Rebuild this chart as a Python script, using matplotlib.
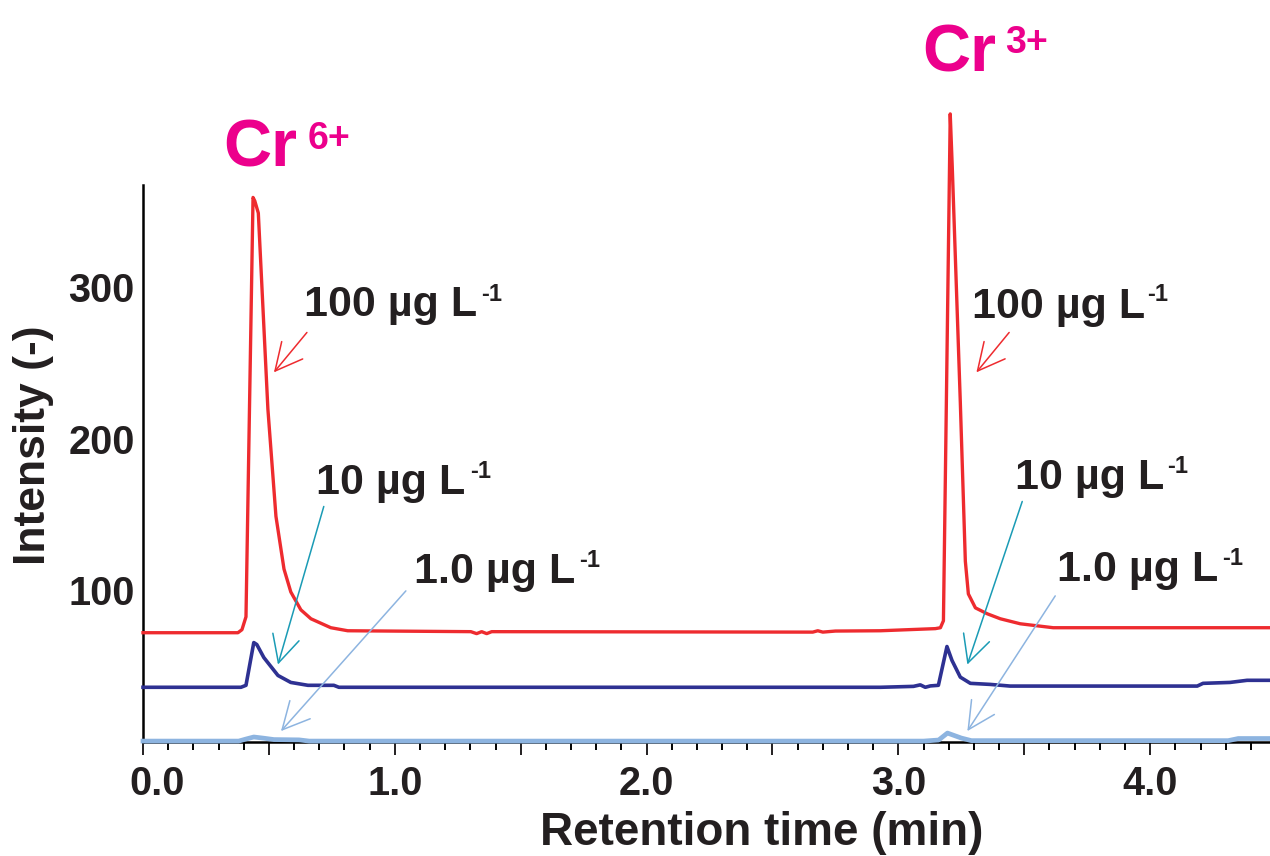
import matplotlib
matplotlib.use('Agg')  # no display in the sandbox
import matplotlib.pyplot as plt
from matplotlib.ticker import MultipleLocator, FuncFormatter

plt.rcParams['font.family'] = ['Liberation Sans', 'DejaVu Sans']
plt.rcParams['font.weight'] = 'bold'

# Chromatogram traces: retention time (min), intensity (-)
red_t = [0.000, 0.377, 0.393, 0.409, 0.437, 0.444, 0.458, 0.496, 0.528, 0.560,
         0.587, 0.627, 0.667, 0.746, 0.813, 1.302, 1.325, 1.345, 1.365, 1.385,
         2.660, 2.680, 2.700, 2.750, 2.929, 3.147, 3.167, 3.179, 3.206, 3.214,
         3.246, 3.266, 3.278, 3.306, 3.353, 3.405, 3.484, 3.615, 4.476]
red_i = [72.1, 72.1, 74.1, 82.6, 359.3, 357.0, 349.0, 219.7, 148.9, 114.1,
         99.0, 87.2, 81.3, 75.4, 73.4, 72.8, 71.5, 72.8, 71.5, 72.8,
         72.5, 73.4, 72.5, 73.2, 73.4, 74.8, 75.4, 80.0, 414.4, 379.7,
         224.3, 119.3, 97.7, 88.5, 84.6, 81.3, 78.0, 75.4, 75.4]

blue_t = [0.000, 0.389, 0.409, 0.440, 0.452, 0.480, 0.536, 0.587, 0.655, 0.758,
          0.778, 2.929, 3.060, 3.087, 3.107, 3.127, 3.159, 3.193, 3.213, 3.246,
          3.286, 3.365, 3.444, 4.187, 4.210, 4.317, 4.385, 4.476]
blue_i = [36.1, 36.1, 37.4, 65.6, 64.3, 55.7, 43.9, 39.3, 37.4, 37.4,
          36.1, 36.1, 36.7, 37.7, 36.1, 37.0, 37.4, 63.0, 53.8, 42.8,
          38.7, 38.0, 36.9, 36.9, 38.7, 39.3, 40.7, 40.7]

light_t = [0.000, 0.380, 0.410, 0.440, 0.480, 0.520, 0.620, 0.660, 3.100, 3.160,
           3.195, 3.250, 3.290, 4.310, 4.350, 4.476]
light_i = [0.6, 0.6, 2.0, 3.3, 2.5, 1.6, 1.4, 0.6, 0.6, 1.3,
           5.9, 2.6, 0.9, 0.9, 2.3, 2.3]

x_ticks = [1.0, 2.0, 3.0, 4.0]   # 0.0 is drawn by hand, nudged right as in the original
y_ticks = [100, 200, 300]

RED = '#ee2b2f'
NAVY = '#2e3192'
LIGHT = '#8db4e0'
TEAL = '#1a9bb5'
PINK = '#ec008c'
INK = '#231f20'

fig = plt.figure(figsize=(12.7, 8.56), dpi=100)
ax = fig.add_axes([143 / 1270, 1 - 742 / 856, 1 - 143 / 1270, (742 - 185) / 856])

ax.plot(red_t, red_i, color=RED, lw=2.4, clip_on=False, zorder=3)
ax.plot(blue_t, blue_i, color=NAVY, lw=2.6, clip_on=False, zorder=3)
ax.plot(light_t, light_i, color=LIGHT, lw=3.4, clip_on=False, zorder=4)

ax.set_xlim(0, 4.476)
ax.set_ylim(0, 367.5)
for s in ['top', 'right']:
    ax.spines[s].set_visible(False)
for s in ['left', 'bottom']:
    ax.spines[s].set_linewidth(1.8)
    ax.spines[s].set_color('black')

ax.xaxis.set_major_locator(MultipleLocator(0.5))
ax.xaxis.set_minor_locator(MultipleLocator(0.1))
ax.xaxis.set_major_formatter(FuncFormatter(
    lambda v, p: f'{v:.1f}' if min(abs(v - t) for t in x_ticks) < 1e-6 else ''))
ax.tick_params(axis='x', which='major', length=9.4, width=1.4, direction='out',
               labelsize=28.5, pad=7, colors=INK)
ax.tick_params(axis='x', which='minor', length=5.8, width=1.4, direction='out')
ax.set_yticks(y_ticks)
ax.tick_params(axis='y', length=0, labelsize=28.5, pad=6, colors=INK)

ax.annotate('0.0', xy=(0, 0), xytext=(14, -23), textcoords='offset pixels',
            ha='center', va='top', fontsize=28.5, color=INK, annotation_clip=False)

fig.text(762 / 1270, 1 - 845 / 856, 'Retention time (min)', ha='center',
         va='baseline', fontsize=33, color=INK)
fig.text(45 / 1270, 1 - 445 / 856, 'Intensity (-)', rotation=90,
         rotation_mode='anchor', ha='center', va='baseline', fontsize=32, color=INK)


def label(x, y, main, sup, size, sup_size, color, gap, rise):
    t = ax.text(x, y, main, fontsize=size, color=color, ha='left', va='baseline')
    fig.canvas.draw()
    bb = t.get_window_extent()
    ox, oy = ax.transData.transform((x, y))
    ax.annotate(sup, xy=(x, y), xytext=(bb.x1 - ox + gap, rise),
                textcoords='offset pixels', fontsize=sup_size, color=color,
                ha='left', va='baseline', annotation_clip=False)


def arrow(tail, head, color):
    ax.annotate('', xy=head, xytext=tail, annotation_clip=False,
                arrowprops=dict(arrowstyle='->,head_length=0.97,head_width=0.49',
                                color=color, lw=1.1, shrinkA=0, shrinkB=0,
                                mutation_scale=20))


label(0.317, 379.7, 'Cr', '6+', 48, 27, PINK, 11, 18)
label(3.095, 442.6, 'Cr', '3+', 48, 27, PINK, 9, 18)
label(0.639, 281.3, '100 µg L', '-1', 31, 17, INK, 4, 15)
label(3.294, 280.0, '100 µg L', '-1', 31, 17, INK, 2, 17)
label(0.687, 163.3, '10 µg L', '-1', 31, 17, INK, 5, 16)
label(3.464, 167.2, '10 µg L', '-1', 31, 17, INK, 3, 16)
label(1.075, 104.9, '1.0 µg L', '-1', 31, 17, INK, 4, 16)
label(3.631, 106.2, '1.0 µg L', '-1', 31, 17, INK, 4, 16)

arrow((0.651, 270.2), (0.520, 243.9), RED)
arrow((3.440, 270.2), (3.310, 243.9), RED)
arrow((0.718, 155.4), (0.536, 51.1), TEAL)
arrow((3.492, 158.7), (3.274, 51.1), TEAL)
arrow((1.044, 99.7), (0.548, 7.2), LIGHT)
arrow((3.623, 96.4), (3.274, 7.2), LIGHT)

fig.savefig('out.png', dpi=100)
